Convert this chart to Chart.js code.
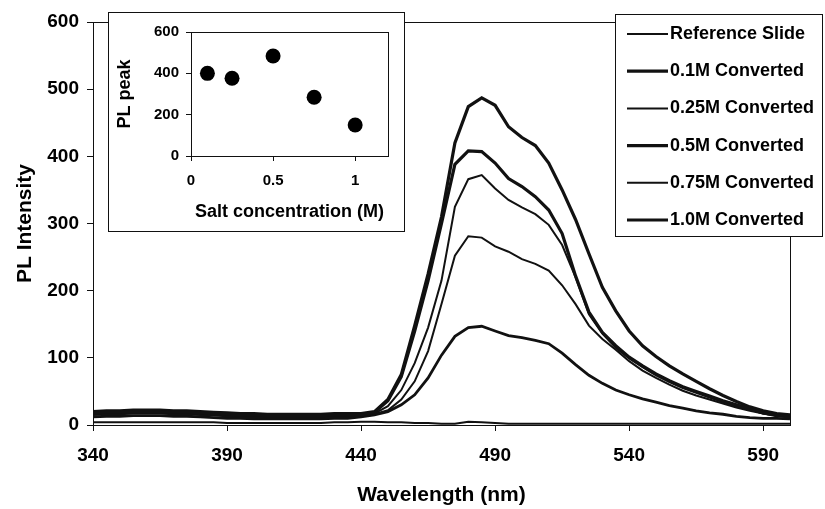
<!DOCTYPE html>
<html>
<head>
<meta charset="utf-8">
<script src="https://cdn.jsdelivr.net/npm/chart.js@4.4.1/dist/chart.umd.min.js"></script>
<style>
  html, body { margin: 0; padding: 0; background: #fff; }
  #wrap { position: relative; width: 825px; height: 509px; }
  #main { position: absolute; left: 0; top: 0; }
  #inset { position: absolute; left: 108px; top: 12px; }
</style>
</head>
<body>
<div id="wrap">
  <canvas id="main" width="825" height="509"></canvas>
  <canvas id="inset" width="297" height="220"></canvas>
</div>
<script>
// ---------------- DATA ----------------
const wavelengths = [340,345,350,355,360,365,370,375,380,385,
                     390,395,400,405,410,415,420,425,430,435,
                     440,445,450,455,460,465,470,475,480,485,
                     490,495,500,505,510,515,520,525,530,535,
                     540,545,550,555,560,565,570,575,580,585,
                     590,595,600];
const xTickValues = [340,390,440,490,540,590];
const yTickValues = [0,100,200,300,400,500,600];

const seriesNames = ["Reference Slide","0.1M Converted","0.25M Converted","0.5M Converted","0.75M Converted","1.0M Converted"];

const referenceSlide = [4,4,4,4,4,4,4,4,4,4, 3,3,3,3,3,3,3,3,4,4,
                        5,5,4,4,3,3,2,2,5,4, 3,2,2,2,2,2,2,2,2,2,
                        2,2,2,2,2,2,2,2,2,2, 2,2,2];
const conv01M  = [18,19,19,20,20,20,19,19,18,17, 16,15,15,14,14,14,14,14,15,15,
                  15,19,36,72,140,215,300,388,408,407,
                  390,367,355,340,320,285,222,168,138,118,
                  101,88,76,66,57,50,43,36,30,24, 18,14,12];
const conv025M = [15,16,16,17,17,17,16,16,15,14, 13,12,12,11,11,11,11,11,12,12,
                  14,17,28,52,92,145,215,325,366,372,
                  352,335,324,314,298,268,220,165,136,115,
                  99,86,74,64,55,48,41,34,28,23, 17,14,12];
const conv05M  = [20,21,21,22,22,22,21,21,20,19, 18,17,17,16,16,16,16,16,17,17,
                  17,20,38,75,148,225,310,420,474,487,
                  476,444,428,416,390,350,306,255,205,170,
                  140,118,102,88,76,65,54,44,35,27, 21,17,15];
const conv075M = [16,17,17,18,18,18,17,17,16,15, 14,13,13,13,12,12,12,13,13,14,
                  14,16,22,38,65,110,180,252,281,279,
                  266,258,247,240,230,208,180,148,128,112,
                  95,81,70,60,51,44,38,32,26,21, 17,14,12];
const conv10M  = [12,13,13,14,14,14,13,13,12,11, 10,10,9,9,9,9,9,9,10,10,
                  12,15,20,30,45,70,104,132,145,147,
                  140,133,130,126,121,107,90,74,62,52,
                  45,39,34,29,25,21,18,16,13,11, 10,10,9];

const saltConc = [0.1, 0.25, 0.5, 0.75, 1.0];
const peakPL   = [400, 376, 484, 284, 150];
const insetXTicks = [0, 0.5, 1];
const insetYTicks = [0, 200, 400, 600];

// ---------------- STYLE ----------------
const FONT = '"Liberation Sans", Arial, Helvetica, sans-serif';
const INK = '#111';
const seriesValues = [referenceSlide, conv01M, conv025M, conv05M, conv075M, conv10M];
const lineWidths = [2, 3.2, 2, 3.2, 2, 2.8];

const mainFrame = {
  id: 'mainFrame',
  afterDatasetsDraw(chart) {
    const a = chart.chartArea, c = chart.ctx;
    c.save();
    c.strokeStyle = INK; c.lineWidth = 1;
    c.strokeRect(Math.round(a.left) + 0.5, Math.round(a.top) + 0.5,
                 Math.round(a.right - a.left), Math.round(a.bottom - a.top));
    c.restore();
  }
};

const boxLegend = {
  id: 'boxLegend',
  afterDraw(chart) {
    const c = chart.ctx;
    c.save();
    c.fillStyle = '#fff';
    c.fillRect(615, 14, 208, 223);
    c.strokeStyle = INK; c.lineWidth = 1;
    c.strokeRect(615.5, 14.5, 207, 222);
    c.font = 'bold 18px ' + FONT;
    c.textBaseline = 'middle';
    c.textAlign = 'left';
    chart.data.datasets.forEach((ds, i) => {
      const y = 34 + i * 37.2;
      c.beginPath();
      c.moveTo(627, y); c.lineTo(668, y);
      c.lineWidth = ds.borderWidth; c.strokeStyle = ds.borderColor;
      c.stroke();
      c.fillStyle = '#000';
      c.fillText(ds.label, 670, y);
    });
    c.restore();
  }
};

new Chart(document.getElementById('main').getContext('2d'), {
  type: 'line',
  data: {
    datasets: seriesNames.map((name, i) => ({
      label: name,
      data: wavelengths.map((w, j) => ({ x: w, y: seriesValues[i][j] })),
      borderColor: INK,
      borderWidth: lineWidths[i],
      pointRadius: 0,
      tension: 0,
      fill: false
    }))
  },
  options: {
    responsive: false,
    animation: false,
    devicePixelRatio: 1,
    layout: { padding: { left: 0, top: 22, right: 35, bottom: 0 } },
    plugins: { legend: { display: false }, tooltip: { enabled: false } },
    scales: {
      x: {
        type: 'linear', min: 340, max: 600,
        afterBuildTicks: s => { s.ticks = xTickValues.map(v => ({ value: v })); },
        afterFit: s => { s.height = 84; },
        grid: { drawOnChartArea: false, tickLength: 6, color: INK },
        border: { color: INK, width: 1 },
        ticks: { color: '#000', padding: 13, maxRotation: 0, autoSkip: false,
                 font: { family: FONT, size: 19, weight: 'bold', lineHeight: 1.2 } },
        title: { display: true, text: 'Wavelength (nm)', color: '#000',
                 padding: { top: 0, bottom: 1.4 },
                 font: { family: FONT, size: 21, weight: 'bold', lineHeight: 1.2 } }
      },
      y: {
        min: 0, max: 600,
        afterBuildTicks: s => { s.ticks = yTickValues.map(v => ({ value: v })); },
        afterFit: s => { s.width = 93; },
        grid: { drawOnChartArea: false, tickLength: 6, color: INK },
        border: { color: INK, width: 1 },
        ticks: { color: '#000', padding: 8,
                 font: { family: FONT, size: 19, weight: 'bold', lineHeight: 1.2 } },
        title: { display: true, text: 'PL Intensity', color: '#000',
                 padding: { top: 12.4, bottom: 0 },
                 font: { family: FONT, size: 21, weight: 'bold', lineHeight: 1.2 } }
      }
    }
  },
  plugins: [mainFrame, boxLegend]
});

const insetBox = {
  id: 'insetBox',
  beforeDraw(chart) {
    const c = chart.ctx;
    c.save();
    c.fillStyle = '#fff';
    c.fillRect(0, 0, chart.width, chart.height);
    c.strokeStyle = INK; c.lineWidth = 1;
    c.strokeRect(0.5, 0.5, chart.width - 1, chart.height - 1);
    c.restore();
  },
  afterDatasetsDraw(chart) {
    const a = chart.chartArea, c = chart.ctx;
    c.save();
    c.strokeStyle = INK; c.lineWidth = 1;
    c.strokeRect(Math.round(a.left) + 0.5, Math.round(a.top) + 0.5,
                 Math.round(a.right - a.left), Math.round(a.bottom - a.top));
    c.restore();
  }
};

new Chart(document.getElementById('inset').getContext('2d'), {
  type: 'scatter',
  data: {
    datasets: [{
      label: 'PL peak',
      data: saltConc.map((x, i) => ({ x: x, y: peakPL[i] })),
      pointRadius: 7.5, pointHoverRadius: 7.5,
      backgroundColor: '#000', borderColor: '#000', borderWidth: 0
    }]
  },
  options: {
    responsive: false,
    animation: false,
    devicePixelRatio: 1,
    layout: { padding: { left: 0, top: 20, right: 17, bottom: 0 } },
    plugins: { legend: { display: false }, tooltip: { enabled: false } },
    scales: {
      x: {
        type: 'linear', min: 0, max: 1.2,
        afterBuildTicks: s => { s.ticks = insetXTicks.map(v => ({ value: v })); },
        afterFit: s => { s.height = 76; },
        grid: { drawOnChartArea: false, tickLength: 5, color: INK },
        border: { color: INK, width: 1 },
        ticks: { color: '#000', padding: 11, maxRotation: 0, autoSkip: false,
                 callback: v => String(v),
                 font: { family: FONT, size: 15, weight: 'bold', lineHeight: 1.2 } },
        title: { display: true, text: 'Salt concentration (M)', color: '#000',
                 padding: { top: 0, bottom: 9.2 },
                 font: { family: FONT, size: 18, weight: 'bold', lineHeight: 1.2 } }
      },
      y: {
        min: 0, max: 600,
        afterBuildTicks: s => { s.ticks = insetYTicks.map(v => ({ value: v })); },
        afterFit: s => { s.width = 83; },
        grid: { drawOnChartArea: false, tickLength: 5, color: INK },
        border: { color: INK, width: 1 },
        ticks: { color: '#000', padding: 7,
                 font: { family: FONT, size: 15, weight: 'bold', lineHeight: 1.2 } },
        title: { display: true, text: 'PL peak', color: '#000',
                 padding: { top: 6.2, bottom: 0 },
                 font: { family: FONT, size: 18, weight: 'bold', lineHeight: 1.2 } }
      }
    }
  },
  plugins: [insetBox]
});
</script>
</body>
</html>
